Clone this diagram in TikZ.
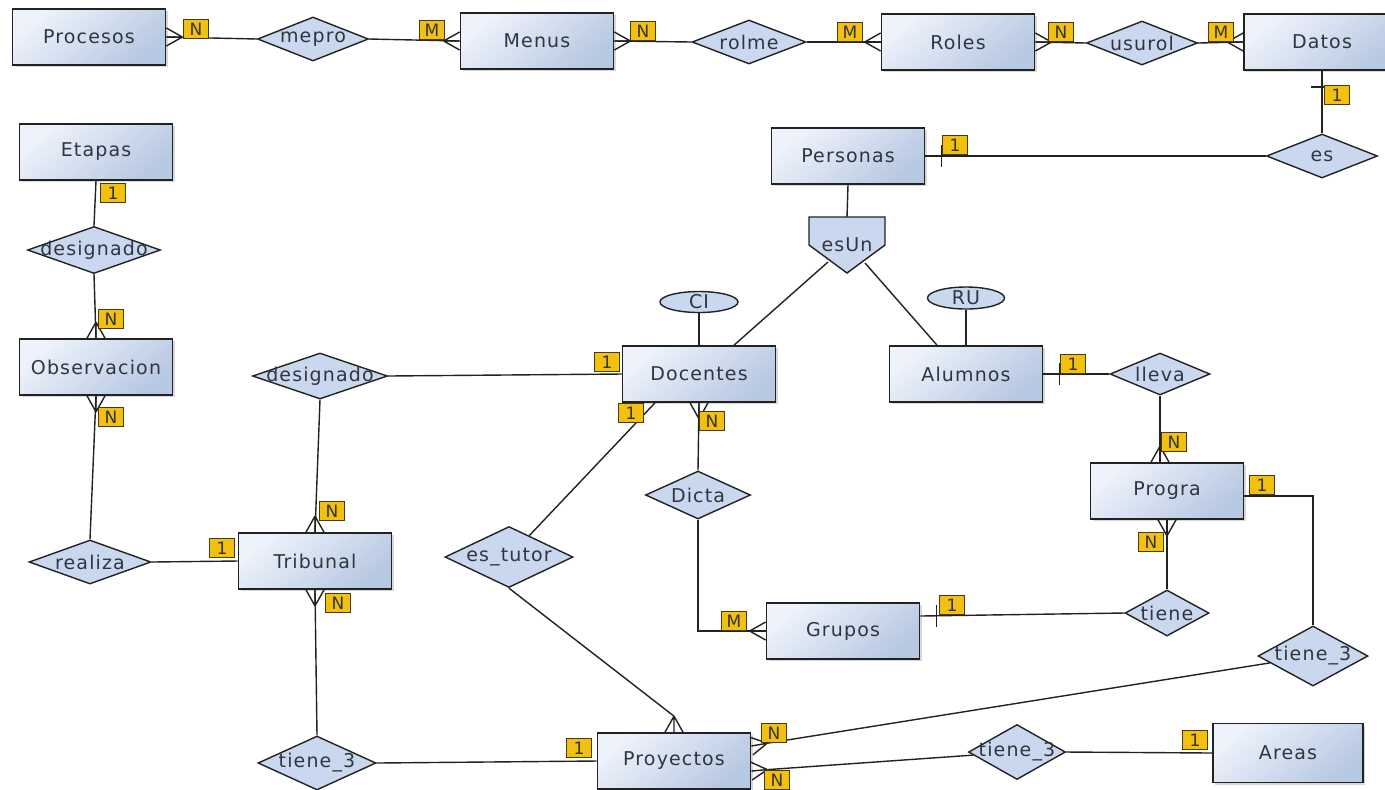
\documentclass[tikz,border=0pt]{standalone}
\usepackage{fontspec}
\setmainfont[LetterSpace=6]{DejaVu Sans}
\newfontfamily\cardfont{DejaVu Sans}
\usetikzlibrary{shapes.geometric}
\usetikzlibrary{shadows}
\usetikzlibrary{calc}

\definecolor{entTop}{HTML}{EEF3FB}
\definecolor{entBot}{HTML}{B7C8E2}
\definecolor{relFill}{HTML}{C9D8EE}
\definecolor{lineCol}{HTML}{222222}
\definecolor{cardFill}{HTML}{F1C010}
\definecolor{cardLine}{HTML}{4A3A00}
\definecolor{txtCol}{HTML}{30363F}

\tikzset{
  entity/.style={draw=lineCol, line width=0.85pt, rectangle,
    top color=entTop, bottom color=entBot, shading angle=40,
    minimum width=76.5pt, minimum height=28pt, text=txtCol,
    font=\fontsize{9.5}{11}\selectfont,
    drop shadow={shadow xshift=1.2pt, shadow yshift=-1.2pt, opacity=0.3}},
  rel/.style={draw=lineCol, line width=0.7pt, diamond, fill=relFill,
    inner sep=0pt, text=txtCol, font=\fontsize{9.5}{11}\selectfont},
  attr/.style={draw=lineCol, line width=0.7pt, ellipse, fill=relFill,
    inner sep=0pt, text=txtCol, font=\fontsize{9.5}{11}\selectfont},
  card/.style={draw=cardLine, line width=0.6pt, fill=cardFill,
    minimum width=12.5pt, minimum height=9.5pt, inner sep=0pt,
    text=black!80, font=\cardfont\fontsize{8.5}{9}\selectfont},
  conn/.style={draw=lineCol, line width=0.7pt},
}

% crow's foot: #1 point on the entity border, #2 direction away from it
\newcommand{\crowfoot}[2]{%
  \draw[conn] ($(#1)+(#2:16)$) -- ($(#1)+(#2+90:9)$)
              ($(#1)+(#2:16)$) -- ($(#1)+(#2-90:9)$)
              ($(#1)+(#2:16)$) -- (#1);}
% single bar across the line
\newcommand{\onebar}[2]{%
  \draw[conn] ($(#1)+(#2:16)+(#2+90:11)$) -- ($(#1)+(#2:16)+(#2-90:11)$);}
\newcommand{\zw}[1]{\makebox[0pt]{#1}}

\begin{document}
\begin{tikzpicture}[x=0.5pt, y=0.5pt]
\fill[white] (0,0) rectangle (1385,-789);
\useasboundingbox (0,0) rectangle (1385,-789);

% entities
\node[entity] (procesos) at (89,-37) {Procesos};
\node[entity] (menus) at (537,-41) {Menus};
\node[entity] (roles) at (958,-42) {Roles};
\node[entity, minimum width=78pt] (datos) at (1322,-42) {Datos};
\node[entity] (etapas) at (96,-152) {Etapas};
\node[entity] (observacion) at (96,-367) {Observacion};
\node[entity] (personas) at (848,-156) {Personas};
\node[entity] (docentes) at (699,-374) {Docentes};
\node[entity] (alumnos) at (966,-374) {Alumnos};
\node[entity] (progra) at (1167,-491) {Progra};
\node[entity] (tribunal) at (315,-561) {Tribunal};
\node[entity] (grupos) at (843,-631) {Grupos};
\node[entity] (proyectos) at (674,-761) {Proyectos};
\node[entity, minimum width=75pt, minimum height=29.5pt] (areas) at (1288,-753) {Areas};

% relationships
\node[rel, minimum width=55.5pt, minimum height=22pt] (mepro) at (313,-39) {\zw{mepro}};
\node[rel, minimum width=57pt, minimum height=22pt] (rolme) at (749,-42) {\zw{rolme}};
\node[rel, minimum width=55.5pt, minimum height=22pt] (usurol) at (1142,-43) {\zw{usurol}};
\node[rel, minimum width=55.5pt, minimum height=22pt] (es) at (1322,-156) {\zw{es}};
\node[rel, minimum width=66.5pt, minimum height=23.5pt] (desigEt) at (94,-250) {\zw{designado}};
\node[rel, minimum width=67.5pt, minimum height=23pt] (desigTr) at (320,-376) {\zw{designado}};
\node[rel, minimum width=50pt, minimum height=21pt] (lleva) at (1160,-374) {\zw{lleva}};
\node[rel, minimum width=52.5pt, minimum height=24pt] (dicta) at (698,-495) {\zw{Dicta}};
\node[rel, minimum width=64pt, minimum height=30.5pt] (estutor) at (509,-557) {\zw{es\_tutor}};
\node[rel, minimum width=61pt, minimum height=22pt] (realiza) at (90,-562) {\zw{realiza}};
\node[rel, minimum width=42pt, minimum height=23pt] (tiene) at (1167,-613) {\zw{tiene}};
\node[rel, minimum width=55pt, minimum height=30pt] (tieneProg) at (1313,-656) {\zw{tiene\_3}};
\node[rel, minimum width=48.5pt, minimum height=27.5pt] (tieneArea) at (1017,-752) {\zw{tiene\_3}};
\node[rel, minimum width=59pt, minimum height=27pt] (tieneTrib) at (317,-763) {\zw{tiene\_3}};

% attributes
\node[attr, minimum width=39pt, minimum height=10.5pt] (ci) at (699,-302) {CI};
\node[attr, minimum width=38.5pt, minimum height=11pt] (ru) at (966,-298) {RU};

% esUn
\filldraw[draw=lineCol, line width=0.7pt, fill=relFill]
  (809,-217) -- (885,-217) -- (885,-245) -- (847,-273) -- (809,-245) -- cycle;
\node[text=txtCol, font=\fontsize{9.5}{11}\selectfont] (esun) at (847,-245) {esUn};
\coordinate (esunTop) at (847,-217);
\coordinate (esunL) at (828,-262);
\coordinate (esunR) at (865,-263);

% top row
\draw[conn] (procesos.east) -- (mepro.west);
\crowfoot{procesos.east}{0}
\draw[conn] (mepro.east) -- (menus.west);
\crowfoot{menus.west}{180}
\draw[conn] (menus.east) -- (rolme.west);
\crowfoot{menus.east}{0}
\draw[conn] (rolme.east) -- (roles.west);
\crowfoot{roles.west}{180}
\draw[conn] (roles.east) -- (usurol.west);
\crowfoot{roles.east}{0}
\draw[conn] (usurol.east) -- (datos.west);
\crowfoot{datos.west}{180}
\draw[conn] (datos.south) -- (es.north);
\onebar{datos.south}{-90}
\draw[conn] (es.west) -- (personas.east);
\onebar{personas.east}{0}

% Personas / esUn
\draw[conn] (personas.south) -- (esunTop);
\draw[conn] (esunL) -- ($(docentes.north)+(35,0)$);
\draw[conn] (esunR) -- ($(alumnos.north)+(-29,0)$);
\draw[conn] (ci.south) -- (docentes.north);
\draw[conn] (ru.south) -- (alumnos.north);

% left column
\draw[conn] (etapas.south) -- (desigEt.north);
\draw[conn] (desigEt.south) -- (observacion.north);
\crowfoot{observacion.north}{90}
\draw[conn] (observacion.south) -- (realiza.north);
\crowfoot{observacion.south}{-90}
\draw[conn] (realiza.east) -- (tribunal.west);
\draw[conn] (desigTr.south) -- (tribunal.north);
\crowfoot{tribunal.north}{90}
\draw[conn] (desigTr.east) -- (docentes.west);
\draw[conn] (tribunal.south) -- (tieneTrib.north);
\crowfoot{tribunal.south}{-90}
\draw[conn] (tieneTrib.east) -- (proyectos.west);

% Docentes
\coordinate (docTutor) at ($(docentes.south)+(-44,0)$);
\draw[conn] (docTutor) -- (estutor);
\draw[conn] (estutor.south) -- ($(proyectos.north)+(0,16)$);
\crowfoot{proyectos.north}{90}
\draw[conn] (docentes.south) -- (dicta.north);
\crowfoot{docentes.south}{-90}
\draw[conn] (dicta.south) |- (grupos.west);
\crowfoot{grupos.west}{180}

% Grupos / Progra / Alumnos
\coordinate (grupTiene) at ($(grupos.east)+(0,15)$);
\draw[conn] (grupTiene) -- (tiene.west);
\onebar{grupTiene}{0}
\draw[conn] (tiene.north) -- (progra.south);
\crowfoot{progra.south}{-90}
\draw[conn] (alumnos.east) -- (lleva.west);
\onebar{alumnos.east}{0}
\coordinate (prograTop) at (lleva.south |- progra.north);
\draw[conn] (lleva.south) -- (prograTop);
\crowfoot{prograTop}{90}
\draw[conn] ($(progra.east)+(0,-5)$) -| (tieneProg.north);

% Proyectos right side
\coordinate (proyUp) at ($(proyectos.east)+(0,15)$);
\coordinate (proyLow) at ($(proyectos.east)+(0,-10)$);
\draw[conn] (tieneProg) -- ($(proyUp)+(10:16)$);
\crowfoot{proyUp}{10}
\draw[conn] (tieneArea) -- ($(proyLow)+(5:16)$);
\crowfoot{proyLow}{5}
\draw[conn] (tieneArea.east) -- (areas.west);

% cardinalities
\node[card] (cProc) at (196,-29) {N};
\node[card] (cMenA) at (432,-30) {M};
\node[card] (cMenB) at (643,-31) {N};
\node[card] (cRolA) at (850,-32) {M};
\node[card] (cRolB) at (1061,-32) {N};
\node[card] (cDat) at (1221,-32) {M};
\node[card] (cDatEs) at (1337,-95) {1};
\node[card] (cPers) at (955,-145) {1};
\node[card] (cEta) at (113,-193) {1};
\node[card] (cObsA) at (111,-319) {N};
\node[card] (cObsB) at (111,-417) {N};
\node[card] (cTriA) at (222,-548) {1};
\node[card] (cTriB) at (332,-511) {N};
\node[card] (cTriC) at (338,-603) {N};
\node[card] (cDocA) at (607,-362) {1};
\node[card] (cDocB) at (631,-413) {1};
\node[card] (cDocC) at (712,-421) {N};
\node[card] (cProyA) at (579,-748) {1};
\node[card] (cGrpA) at (734,-621) {M};
\node[card] (cGrpB) at (952,-605) {1};
\node[card] (cAlu) at (1073,-364) {1};
\node[card] (cPrgA) at (1174,-442) {N};
\node[card] (cPrgB) at (1151,-542) {N};
\node[card] (cPrgC) at (1262,-485) {1};
\node[card] (cProyB) at (774,-733) {N};
\node[card] (cProyC) at (777,-780) {N};
\node[card] (cArea) at (1195,-740) {1};
\end{tikzpicture}
\end{document}
